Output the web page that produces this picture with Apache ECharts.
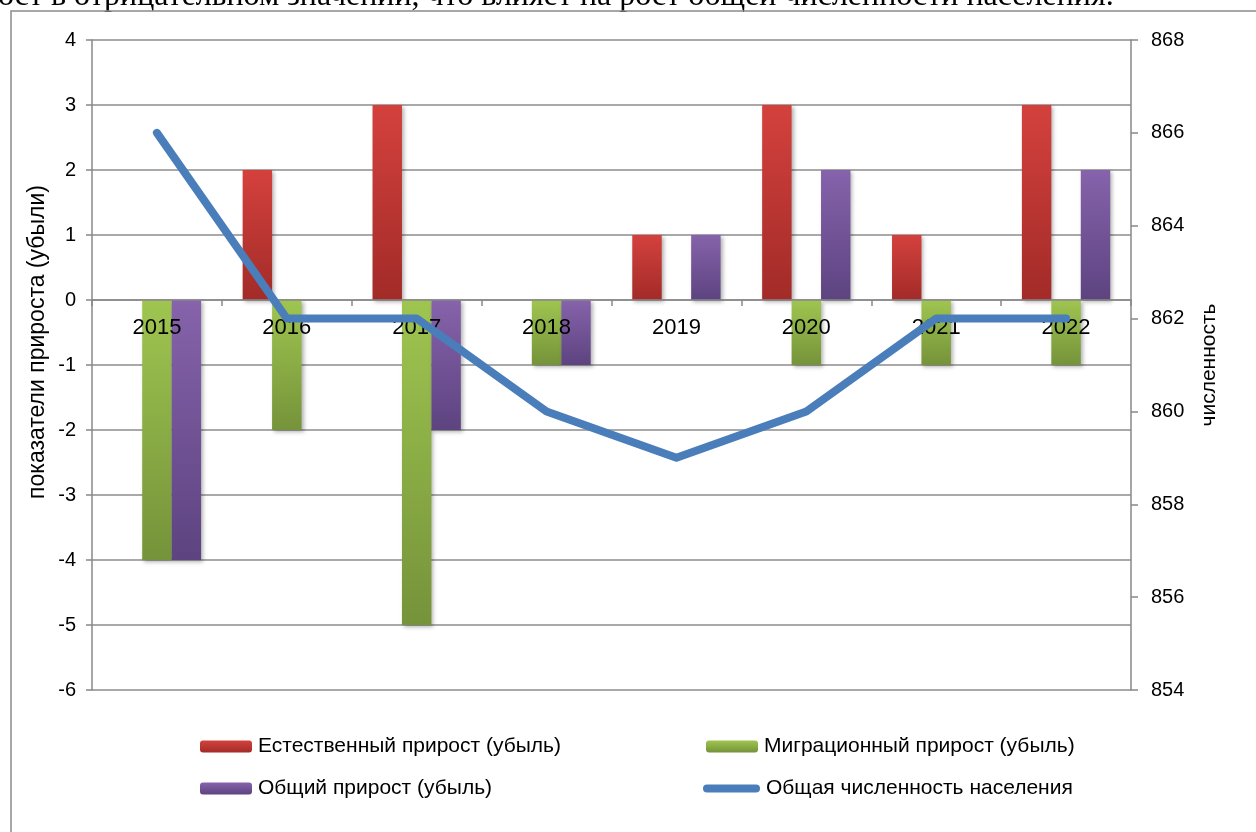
<!DOCTYPE html>
<html>
<head>
<meta charset="utf-8">
<script src="https://cdn.jsdelivr.net/npm/echarts@6/dist/echarts.min.js"></script>
<style>
    html, body { margin: 0; padding: 0; background: #fff; }
    #main { width: 1256px; height: 832px; }
</style>
</head>
<body>
<div id="main"></div>
<script>
// данные диаграммы
var years = ['2015', '2016', '2017', '2018', '2019', '2020', '2021', '2022'];
var natural = [0, 2, 3, 0, 1, 3, 1, 3];
var migration = [-4, -2, -5, -1, 0, -1, -1, -1];
var total = [-4, 0, -2, -1, 1, 2, 0, 2];
var population = [866, 862, 862, 860, 859, 860, 862, 862];

var names = ['Естественный прирост (убыль)', 'Миграционный прирост (убыль)',
             'Общий прирост (убыль)', 'Общая численность населения'];

var font = 'Liberation Sans, Arial, sans-serif';

function grad(top, bottom) {
    return new echarts.graphic.LinearGradient(0, 0, 0, 1, [
        {offset: 0, color: top},
        {offset: 1, color: bottom}
    ]);
}

var myChart = echarts.init(document.getElementById('main'));

var barShadow = {
    shadowBlur: 4,
    shadowOffsetX: 2,
    shadowOffsetY: 2,
    shadowColor: 'rgba(0,0,0,0.3)'
};

function legendAt(name, left, top, w, h, icon) {
    var l = {
        data: [name],
        left: left,
        top: top,
        padding: 0,
        itemWidth: w,
        itemHeight: h,
        itemGap: 0,
        selectedMode: false,
        textStyle: {fontFamily: font, fontSize: 21, color: '#000', padding: [0, 0, 0, 1]}
    };
    if (icon) l.icon = icon;
    return l;
}

option = {
    animation: false,
    backgroundColor: '#fff',
    graphic: [
        {
            type: 'text',
            left: -2,
            top: -19,
            style: {
                text: 'ост в отрицательном значении, что влияет на рост общей численности населения.',
                font: '32px "Liberation Serif", "Times New Roman", serif',
                fill: '#000'
            }
        },
        {
            type: 'rect',
            shape: {x: 11, y: 11, width: 1400, height: 1000},
            style: {fill: 'none', stroke: '#8a8a8a', lineWidth: 1.5}
        },
        {
            type: 'text',
            x: 38,
            y: 342,
            rotation: Math.PI / 2,
            style: {
                text: 'показатели прироста (убыли)',
                font: '23px ' + font,
                fill: '#000',
                align: 'center',
                verticalAlign: 'middle'
            }
        },
        {
            type: 'text',
            x: 1209,
            y: 365,
            rotation: Math.PI / 2,
            style: {
                text: 'численность',
                font: '21px ' + font,
                fill: '#000',
                align: 'center',
                verticalAlign: 'middle'
            }
        }
    ],
    legend: [
        legendAt(names[0], 200, 736, 52, 12),
        legendAt(names[1], 706, 736, 52, 12),
        legendAt(names[2], 200, 778, 52, 12),
        legendAt(names[3], 703, 778, 57, 8, 'path://M4,0 H53 A4,4 0 0 1 53,8 H4 A4,4 0 0 1 4,0 Z')
    ],
    grid: {
        left: 92,
        right: 125,
        top: 40,
        bottom: 142
    },
    xAxis: {
        type: 'category',
        data: years,
        z: 3,
        offset: -390,
        axisLine: {onZero: false, lineStyle: {color: '#888', width: 1.5}},
        axisTick: {show: true, interval: 0, length: 6, lineStyle: {color: '#888', width: 1.5}},
        axisLabel: {interval: 0, margin: 17, fontFamily: font, fontSize: 22, color: '#000'}
    },
    yAxis: [
        {
            type: 'value',
            min: -6,
            max: 4,
            interval: 1,
            axisLine: {show: true, lineStyle: {color: '#888', width: 1.5}},
            axisTick: {show: true, length: 6, lineStyle: {color: '#888', width: 1.5}},
            splitLine: {lineStyle: {color: '#8c8c8c', width: 1.5}},
            axisLabel: {margin: 16, fontFamily: font, fontSize: 20, color: '#000'}
        },
        {
            type: 'value',
            min: 854,
            max: 868,
            interval: 2,
            position: 'right',
            axisLine: {show: true, lineStyle: {color: '#888', width: 1.5}},
            axisTick: {show: true, length: 7, lineStyle: {color: '#888', width: 1.5}},
            splitLine: {show: false},
            axisLabel: {margin: 20, fontFamily: font, fontSize: 20, color: '#000'}
        }
    ],
    series: [
        {
            name: names[0],
            type: 'bar',
            z: 2,
            barGap: '0%',
            barCategoryGap: '32%',
            itemStyle: Object.assign({color: grad('#d4413d', '#a22b28')}, barShadow),
            data: natural
        },
        {
            name: names[1],
            type: 'bar',
            z: 2,
            itemStyle: Object.assign({color: grad('#9fc550', '#75933a')}, barShadow),
            data: migration
        },
        {
            name: names[2],
            type: 'bar',
            z: 2,
            itemStyle: Object.assign({color: grad('#8663ab', '#5d4380')}, barShadow),
            data: total
        },
        {
            name: names[3],
            type: 'line',
            yAxisIndex: 1,
            z: 4,
            symbol: 'none',
            itemStyle: {color: '#4a7ebb'},
            lineStyle: {color: '#4a7ebb', width: 8, cap: 'round', join: 'round'},
            data: population
        }
    ]
};

myChart.setOption(option);
</script>
</body>
</html>
